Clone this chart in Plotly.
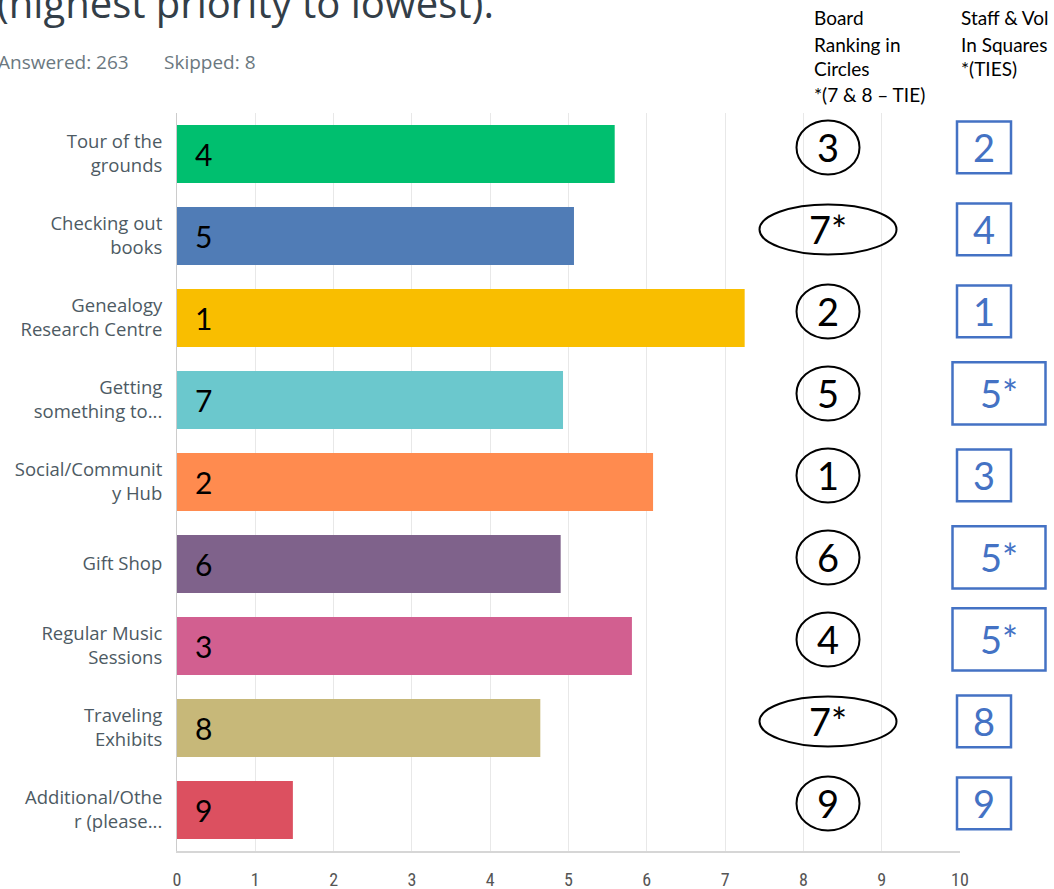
import plotly.graph_objects as go

# survey answers, top to bottom
categories = [
    "Tour of the<br>grounds",
    "Checking out<br>books",
    "Genealogy<br>Research Centre",
    "Getting<br>something to...",
    "Social/Communit<br>y Hub",
    "Gift Shop",
    "Regular Music<br>Sessions",
    "Traveling<br>Exhibits",
    "Additional/Othe<br>r (please...",
]
scores = [5.59, 5.07, 7.25, 4.93, 6.08, 4.90, 5.81, 4.64, 1.48]
bar_rank = ["4", "5", "1", "7", "2", "6", "3", "8", "9"]
board_rank = ["3", "7*", "2", "5", "1", "6", "4", "7*", "9"]
staff_rank = ["2", "4", "1", "5*", "3", "5*", "5*", "8", "9"]
colors = ["#00bf6f", "#507cb6", "#f9be00", "#6bc8cd", "#ff8b4f",
          "#7f628b", "#d25f90", "#c7b879", "#dc5060"]

W, H = 1054, 889
L, R, T, B = 177, 94, 113, 38
plot_w = W - L - R
plot_h = H - T - B


def px_x(p):
    return (p - L) / plot_w


def px_y(p):
    return 1 + (T - p) / plot_h


fig = go.Figure()
fig.add_trace(go.Bar(
    x=scores, y=categories, orientation="h",
    marker=dict(color=colors, line=dict(width=0)),
    width=0.71, hoverinfo="x+y",
))

# rank number written inside each bar
for cat, r in zip(categories, bar_rank):
    fig.add_annotation(x=0.2, y=cat, xref="x", yref="y", text=r,
                       showarrow=False, xanchor="left", yanchor="middle",
                       font=dict(family="Lato", size=30, color="black"))

# board ranking in circles / ellipses, staff ranking in squares
for i, (b, s) in enumerate(zip(board_rank, staff_rank)):
    yc = i - 0.08
    cw = 137 if "*" in b else 63
    ch = 0.61 if "*" in b else 0.66
    cx = 828
    fig.add_shape(type="circle", xref="paper", yref="y",
                  x0=px_x(cx - cw / 2), x1=px_x(cx + cw / 2),
                  y0=yc - ch / 2, y1=yc + ch / 2,
                  line=dict(color="black", width=2))
    fig.add_annotation(x=px_x(cx), y=yc, xref="paper", yref="y", text=b,
                       showarrow=False, xanchor="center", yanchor="middle",
                       font=dict(family="Lato", size=38, color="black"))

    sw = 93 if "*" in s else 54
    sh = 0.76 if "*" in s else 0.63
    sx = 999 if "*" in s else 984
    fig.add_shape(type="rect", xref="paper", yref="y",
                  x0=px_x(sx - sw / 2), x1=px_x(sx + sw / 2),
                  y0=yc - sh / 2, y1=yc + sh / 2,
                  line=dict(color="#4472c4", width=2.5))
    fig.add_annotation(x=px_x(sx), y=yc, xref="paper", yref="y", text=s,
                       showarrow=False, xanchor="center", yanchor="middle",
                       font=dict(family="Lato", size=38, color="#4472c4"))

# headers above the two rank columns
board_head = ["Board", "Ranking in", "Circles", "*(7 & 8 \u2013 TIE)"]
staff_head = ["Staff & Vol", "In Squares", "*(TIES)"]
head_y = [18, 44, 69, 95]
for txt, yy in zip(board_head, head_y):
    fig.add_annotation(x=px_x(812), y=px_y(yy), xref="paper", yref="paper",
                       text=txt, showarrow=False, xanchor="left", yanchor="middle",
                       font=dict(family="Lato", size=19, color="black"))
for txt, yy in zip(staff_head, head_y):
    fig.add_annotation(x=px_x(959), y=px_y(yy), xref="paper", yref="paper",
                       text=txt, showarrow=False, xanchor="left", yanchor="middle",
                       font=dict(family="Lato", size=19, color="black"))

# cut-off question title and response counts
fig.add_annotation(x=px_x(-5), y=px_y(2), xref="paper", yref="paper",
                   text="(highest priority to lowest).", showarrow=False,
                   xanchor="left", yanchor="middle",
                   font=dict(family="Open Sans", size=40, color="#333e48"))
fig.add_annotation(x=px_x(-4), y=px_y(62), xref="paper", yref="paper",
                   text="Answered: 263", showarrow=False,
                   xanchor="left", yanchor="middle",
                   font=dict(family="Open Sans", size=19, color="#6b787f"))
fig.add_annotation(x=px_x(162), y=px_y(62), xref="paper", yref="paper",
                   text="Skipped: 8", showarrow=False,
                   xanchor="left", yanchor="middle",
                   font=dict(family="Open Sans", size=19, color="#6b787f"))

fig.update_layout(
    width=W, height=H,
    margin=dict(l=L, r=R, t=T, b=B, pad=0, autoexpand=False),
    plot_bgcolor="white", paper_bgcolor="white",
    showlegend=False, bargap=0.29,
    font=dict(family="Open Sans", color="#4d5a63"),
)
fig.update_xaxes(
    range=[0, 10], dtick=1, tick0=0, automargin=False,
    showgrid=True, gridcolor="#e8e8e8", gridwidth=1,
    zeroline=False, showline=True, linecolor="#d6d6d6", linewidth=2,
    ticks="outside", ticklen=11, tickcolor="rgba(0,0,0,0)",
    tickfont=dict(family="Liberation Sans Narrow, Roboto Condensed, Roboto", size=18, color="#555555"),
    fixedrange=True,
)
fig.update_yaxes(
    categoryorder="array", categoryarray=categories, autorange="reversed",
    automargin=False,
    showgrid=False, zeroline=False, showline=True, linecolor="#cccccc", linewidth=1,
    ticks="outside", ticklen=10, tickcolor="rgba(0,0,0,0)",
    tickfont=dict(family="Open Sans", size=18.5, color="#4d5a63"),
    fixedrange=True,
)

# the page's default body margin would push the chart 8px in
fig.write_html("out.html", config={"displayModeBar": False},
               post_script="document.body.style.margin='0px';")
